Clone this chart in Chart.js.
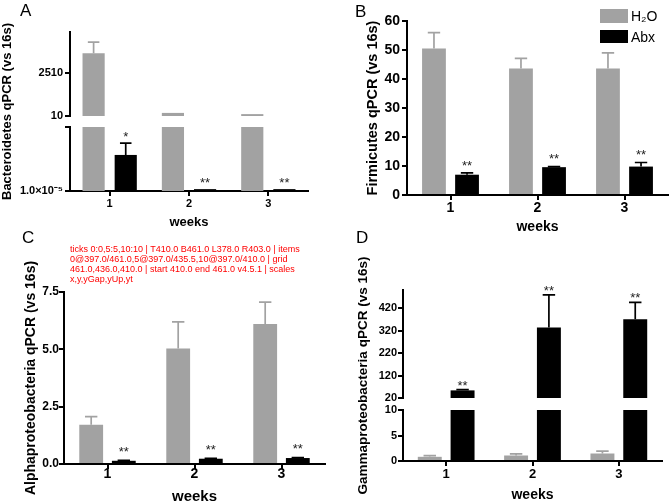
<!DOCTYPE html>
<html>
<head>
<meta charset="utf-8">
<script src="https://cdn.jsdelivr.net/npm/chart.js@4.4.1/dist/chart.umd.min.js"></script>
<style>
  html, body { margin: 0; padding: 0; background: #fff; }
  #wrap { position: relative; width: 670px; height: 503px; overflow: hidden; background: #fff;
          font-family: 'Liberation Sans', Arial, Helvetica, sans-serif; }
  #wrap canvas { position: absolute; left: 0; top: 0; }
  .panel-letter { position: absolute; font-size: 17px; line-height: 17px; color: #000; }
  .leg-row { position: absolute; left: 600px; display: flex; align-items: center; font-size: 14px; color: #000; }
  .leg-box { width: 28px; margin-right: 3px; }
  #dbg { position: absolute; left: 70px; top: 244px; width: 270px; font-size: 9px; line-height: 10px; color: red; z-index: 9; }
</style>
</head>
<body>
<div id="wrap">
  <canvas id="cA" width="670" height="520"></canvas>
  <canvas id="cB" width="670" height="520"></canvas>
  <canvas id="cC" width="670" height="520"></canvas>
  <canvas id="cD" width="670" height="520"></canvas>
  <div class="panel-letter" style="left:20px;top:2px">A</div>
  <div class="panel-letter" style="left:355px;top:3px">B</div>
  <div class="panel-letter" style="left:22px;top:229px">C</div>
  <div class="panel-letter" style="left:356px;top:229px">D</div>
  <div id="legend"></div>
  <div id="dbg"></div>
</div>
<script>
// ---------------- data ----------------
const weeks = ['1', '2', '3'];
const xTitle = 'weeks';
const seriesNames = ['H₂O', 'Abx'];

const bacTitle = 'Bacteroidetes qPCR (vs 16s)';
const bacH2O = [3670, 190, 120];
const bacH2OErr = [640, 0, 0];
const bacAbx = [0.024, 0.000015, 0.000015];
const bacAbxErr = [0.29, 0, 0];
const bacSig = ['*', '**', '**'];
const bacTicksUpper = [10, 2510];
const bacTickLabelsUpper = ['10', '2510'];
const bacTicksLower = [0.00001, 10];
const bacTickLabelsLower = ['1.0×10⁻⁵', ''];

const firTitle = 'Firmicutes qPCR (vs 16s)';
const firH2O = [50.5, 43.6, 43.6];
const firH2OErr = [5.5, 3.5, 5.4];
const firAbx = [7.0, 9.6, 9.8];
const firAbxErr = [0.6, 0.2, 1.4];
const firSig = ['**', '**', '**'];
const firTicks = [0, 10, 20, 30, 40, 50, 60];
const firTickLabels = ['0', '10', '20', '30', '40', '50', '60'];

const alpTitle = 'Alphaproteobacteria qPCR (vs 16s)';
const alpH2O = [1.71, 5.04, 6.10];
const alpH2OErr = [0.36, 1.16, 0.96];
const alpAbx = [0.14, 0.23, 0.26];
const alpAbxErr = [0.02, 0.02, 0.02];
const alpSig = ['**', '**', '**'];
const alpTicks = [0, 2.5, 5, 7.5];
const alpTickLabels = ['0.0', '2.5', '5.0', '7.5'];

const gamTitle = 'Gammaproteobacteria qPCR (vs 16s)';
const gamH2O = [0.82, 1.08, 1.47];
const gamH2OErr = [0.25, 0.3, 0.45];
const gamAbx = [54, 335, 371];
const gamAbxErr = [3, 145, 76];
const gamSig = ['**', '**', '**'];
const gamTicksUpper = [20, 120, 220, 320, 420];
const gamTickLabelsUpper = ['20', '120', '220', '320', '420'];
const gamTicksLower = [0, 5, 10];
const gamTickLabelsLower = ['0', '5', '10'];

const FONT = "'Liberation Sans', Arial, Helvetica, sans-serif";
const GRAY = '#a2a2a2';
const BLACK = '#000000';
const CW = 670, CH = 520;
const charts = {};

function makeErrPlugin(p) {
  return {
    id: 'errbars' + p.id,
    afterDatasetsDraw(chart) {
      const ctx = chart.ctx;
      const yLow = chart.scales.y, yUp = chart.scales.yUp;
      const pix = v => (yUp && v > p.upper.min) ? yUp.getPixelForValue(Math.min(v, p.upper.max))
                                                 : yLow.getPixelForValue(Math.min(v, p.lower.max));
      const series = [
        {vals: p.h2o, err: p.h2oErr, color: GRAY, ds: 0, sig: null},
        {vals: p.abx, err: p.abxErr, color: BLACK, ds: 1, sig: p.sig}
      ];
      ctx.save();
      series.forEach(s => {
        const meta = chart.getDatasetMeta(s.ds);
        meta.data.forEach((bar, i) => {
          const v = s.vals[i], e = s.err[i];
          const x = bar.x, w = bar.width;
          const yTop = pix(v), yErr = pix(v + e);
          if (e > 0) {
            ctx.strokeStyle = s.color;
            ctx.lineWidth = 1.7;
            ctx.beginPath();
            ctx.moveTo(x, yTop);
            ctx.lineTo(x, yErr);
            ctx.moveTo(x - w * 0.26, yErr);
            ctx.lineTo(x + w * 0.26, yErr);
            ctx.stroke();
          }
          if (s.sig) {
            ctx.fillStyle = '#222';
            ctx.font = p.sigSize + 'px ' + FONT;
            ctx.textAlign = 'center';
            ctx.textBaseline = 'alphabetic';
            ctx.fillText(s.sig[i], x, yErr - p.sigGap + 0.58 * p.sigSize);
          }
        });
      });
      ctx.restore();
    }
  };
}

function axisStyle(p, ticks, labels, extra) {
  return Object.assign({
    stacked: false,
    beginAtZero: false,
    grid: {drawOnChartArea: false, tickLength: 5, lineWidth: 2, color: '#000'},
    border: {display: true, color: '#000', width: 2},
    ticks: {autoSkip: false, font: {family: FONT, size: p.tickSize, weight: 'bold'}, color: '#000',
            padding: p.tickPad, callback: (v, i) => labels[i]},
    afterBuildTicks: s => { s.ticks = ticks.map(v => ({value: v})); },
    afterFit: s => { s.width = p.yW; }
  }, extra);
}

function buildPanel(p) {
  const broken = !!p.upper;
  const series = [
    {label: seriesNames[0], vals: p.h2o, color: GRAY, stack: 'h2o'},
    {label: seriesNames[1], vals: p.abx, color: BLACK, stack: 'abx'}
  ];
  const datasets = series.map(s => ({
    label: s.label,
    data: broken ? s.vals.map(v => Math.min(v, p.lower.max)) : s.vals,
    yAxisID: 'y', backgroundColor: s.color, borderWidth: 0, stack: s.stack,
    categoryPercentage: p.cp, barPercentage: p.bp
  }));
  if (broken) {
    series.forEach(s => datasets.push({
      label: s.label,
      data: s.vals.map(v => v > p.upper.min ? [p.upper.min, v] : null),
      yAxisID: 'yUp', backgroundColor: s.color, borderWidth: 0, stack: s.stack,
      categoryPercentage: p.cp, barPercentage: p.bp
    }));
  }
  const scales = {
    x: {
      type: 'category', offset: true,
      grid: {offset: false, drawOnChartArea: false, tickLength: 5, lineWidth: 2, color: '#000'},
      border: {display: true, color: '#000', width: 2},
      ticks: {font: {family: FONT, size: p.catSize, weight: 'bold'}, color: '#000', padding: p.catPad,
              maxRotation: 0, autoSkip: false},
      title: {display: true, text: xTitle, color: '#000', padding: 0,
              font: {family: FONT, size: p.xTitleSize, weight: 'bold'}},
      afterFit: s => { s.height = p.xH; }
    }
  };
  if (broken) {
    scales.y = axisStyle(p, p.lower.ticks, p.lower.labels, {
      type: p.lower.type, min: p.lower.min, max: p.lower.max, weight: 1, stack: 'v', stackWeight: p.lower.px});
    scales.yGap = {type: 'linear', display: false, weight: 2, stack: 'v', stackWeight: p.gapPx,
                   afterFit: s => { s.width = p.yW; }};
    scales.yUp = axisStyle(p, p.upper.ticks, p.upper.labels, {
      type: 'linear', min: p.upper.min, max: p.upper.max, weight: 3, stack: 'v', stackWeight: p.upper.px});
  } else {
    scales.y = axisStyle(p, p.lower.ticks, p.lower.labels, {
      type: 'linear', min: p.lower.min, max: p.lower.max, weight: 1});
  }
  scales.yt = {
    type: 'linear', position: 'left', weight: 10,
    grid: {display: false}, border: {display: false}, ticks: {display: false},
    title: {display: true, text: p.title, color: '#000', padding: 0,
            font: {family: FONT, size: p.titleSize, weight: 'bold'}},
    afterFit: s => { s.width = p.titleW; }
  };
  charts[p.id] = new Chart(document.getElementById(p.canvas), {
    type: 'bar',
    data: {labels: weeks, datasets},
    options: {
      responsive: false, animation: false, events: [],
      layout: {padding: {left: p.padL, top: p.area.t, right: CW - p.area.r, bottom: CH - p.area.b - p.xH}},
      plugins: {legend: {display: false}, tooltip: {enabled: false}},
      scales
    },
    plugins: [makeErrPlugin(p)]
  });
}

buildPanel({
  id: 'A', canvas: 'cA', title: bacTitle,
  area: {t: 32, r: 308, b: 191}, padL: 0, titleW: 16, yW: 54,
  titleSize: 13, tickSize: 11, tickPad: 2, catSize: 11, catPad: 1.5, xTitleSize: 13, xH: 39,
  cp: 0.81, bp: 0.69,
  h2o: bacH2O, h2oErr: bacH2OErr, abx: bacAbx, abxErr: bacAbxErr, sig: bacSig, sigSize: 13, sigGap: 10,
  lower: {type: 'logarithmic', min: 0.00001, max: 10, ticks: bacTicksLower, labels: bacTickLabelsLower, px: 64},
  gapPx: 11,
  upper: {min: 10, max: 4900, ticks: bacTicksUpper, labels: bacTickLabelsUpper, px: 84}
});

buildPanel({
  id: 'B', canvas: 'cB', title: firTitle,
  area: {t: 21, r: 668, b: 195}, padL: 364, titleW: 20, yW: 23,
  titleSize: 14.5, tickSize: 14, tickPad: 2, catSize: 14, catPad: 0, xTitleSize: 14, xH: 41,
  cp: 0.76, bp: 0.72,
  h2o: firH2O, h2oErr: firH2OErr, abx: firAbx, abxErr: firAbxErr, sig: firSig, sigSize: 13, sigGap: 11,
  lower: {min: 0, max: 60, ticks: firTicks, labels: firTickLabels}
});

buildPanel({
  id: 'C', canvas: 'cC', title: alpTitle,
  area: {t: 292, r: 325, b: 464}, padL: 23, titleW: 19, yW: 22,
  titleSize: 14, tickSize: 12, tickPad: 0, catSize: 14, catPad: -3, xTitleSize: 15, xH: 42,
  cp: 0.75, bp: 0.73,
  h2o: alpH2O, h2oErr: alpH2OErr, abx: alpAbx, abxErr: alpAbxErr, sig: alpSig, sigSize: 13, sigGap: 12,
  lower: {min: 0, max: 7.5, ticks: alpTicks, labels: alpTickLabels}
});

buildPanel({
  id: 'D', canvas: 'cD', title: gamTitle,
  area: {t: 290, r: 662, b: 461}, padL: 355, titleW: 23, yW: 25,
  titleSize: 13.5, tickSize: 11, tickPad: 1, catSize: 13, catPad: 0.7, xTitleSize: 14, xH: 43,
  cp: 0.76, bp: 0.73,
  h2o: gamH2O, h2oErr: gamH2OErr, abx: gamAbx, abxErr: gamAbxErr, sig: gamSig, sigSize: 13, sigGap: 7.5,
  lower: {type: 'linear', min: 0, max: 10, ticks: gamTicksLower, labels: gamTickLabelsLower, px: 51},
  gapPx: 12,
  upper: {min: 20, max: 502, ticks: gamTicksUpper, labels: gamTickLabelsUpper, px: 108}
});

const legend = document.getElementById('legend');
const legColors = [GRAY, BLACK];
const legTops = [9, 30];
const legHeights = [14, 13];
seriesNames.forEach((name, i) => {
  const row = document.createElement('div');
  row.className = 'leg-row';
  row.style.top = legTops[i] + 'px';
  row.style.height = legHeights[i] + 'px';
  const box = document.createElement('div');
  box.className = 'leg-box';
  box.style.height = legHeights[i] + 'px';
  box.style.background = legColors[i];
  const txt = document.createElement('span');
  txt.textContent = name;
  row.appendChild(box);
  row.appendChild(txt);
  legend.appendChild(row);
});

// debug
const sy = charts.D.scales.y;
const items = sy.getLabelItems();
const gl = sy._computeGridLineItems(charts.D.chartArea);
document.getElementById('dbg').textContent =
  'ticks ' + sy.ticks.map(t => t.value + ':' + t.label).join(',') +
  ' | T' + sy.top.toFixed(1) + ' B' + sy.bottom.toFixed(1) + ' L' + sy.left.toFixed(1) + ' R' + sy.right.toFixed(1) +
  ' | items ' + items.map(it => it.label + '@' + it.options.translation.map(n => n.toFixed(1)).join('/')).join(',') +
  ' | grid ' + gl.map(g => g.ty1 !== undefined ? g.ty1.toFixed(1) : '?').join(',') +
  ' | start ' + sy._startPixel.toFixed(1) + ' end ' + sy._endPixel.toFixed(1) + ' v' + Chart.version +
  ' | scales ' + Object.keys(charts.D.scales).join(',');
</script>
</body>
</html>
